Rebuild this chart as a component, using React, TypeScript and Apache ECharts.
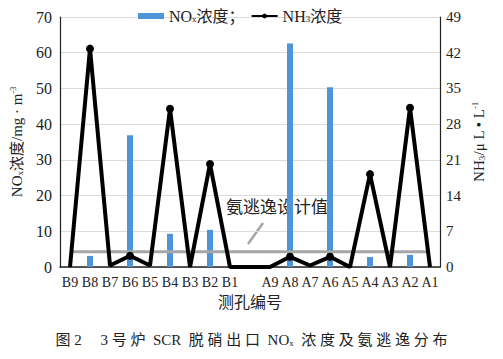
import React, { useEffect, useRef } from "react";
import * as echarts from "echarts";

const categories = ["B9", "B8", "B7", "B6", "B5", "B4", "B3", "B2", "B1", "", "A9", "A8", "A7", "A6", "A5", "A4", "A3", "A2", "A1"];
const noxValues = [0, 3.1, 0, 36.9, 0, 9.3, 0, 10.4, 0, 0, 0, 62.6, 0, 50.3, 0, 2.8, 0, 3.4, 0];
const nh3Values = [0, 42.8, 0.3, 2.2, 0.3, 31, 0, 20.2, 0, 0, 0, 2.0, 0.3, 2.0, 0, 18.2, 0, 31.2, 0];
const designValue = categories.map(() => 3);
const leftTicks = { min: 0, max: 70, interval: 10 };
const rightTicks = { min: 0, max: 49, interval: 7 };

const FONT = '"Liberation Serif", "DejaVu Serif", "Noto Sans CJK SC", serif';

export default function App() {
  const ref = useRef<HTMLDivElement>(null);
  useEffect(() => {
    if (!ref.current) return;
    const chart = echarts.init(ref.current, null, { renderer: "svg" });
    const sub = { fontSize: 9, fontFamily: FONT, color: "#222", verticalAlign: "bottom" as const, padding: [6, 0, 0, 0] };
    chart.setOption({
      animation: false,
      backgroundColor: "#fff",
      textStyle: { fontFamily: FONT },
      grid: { left: 60, right: 63, top: 17, bottom: 92 },
      legend: {
        top: 3,
        left: 133,
        itemGap: 6,
        itemWidth: 26,
        itemHeight: 6,
        data: [
          { name: "NOx", icon: "rect" },
          { name: "NH3" },
        ],
        formatter: (n: string) => (n === "NOx" ? "{a|NO}{s|x}{a|浓度；}" : "{a|NH}{s|3}{a|浓度}"),
        textStyle: {
          fontFamily: FONT,
          rich: {
            a: { fontSize: 16, fontFamily: FONT, color: "#222" },
            s: sub,
          },
        },
      },
      xAxis: {
        type: "category",
        data: categories,
        axisTick: { show: false },
        axisLine: { lineStyle: { color: "#222", width: 1.5 } },
        axisLabel: { interval: 0, fontSize: 14, color: "#222", fontFamily: FONT, margin: 8 },
        name: "测孔编号",
        nameLocation: "middle",
        nameGap: 27,
        nameTextStyle: { fontSize: 16, color: "#222", fontFamily: FONT },
      },
      yAxis: [
        {
          type: "value",
          ...leftTicks,
          axisLine: { show: true, lineStyle: { color: "#222", width: 1.2 } },
          axisTick: { show: false },
          splitLine: { lineStyle: { color: "#dcdcdc", width: 1 } },
          axisLabel: { fontSize: 16, color: "#222", fontFamily: FONT, margin: 8 },
          name: "{a|NO}{s|x}{a|浓度/mg · m}{p|-3}",
          nameLocation: "middle",
          nameGap: 36,
          nameRotate: 90,
          nameTextStyle: {
            rich: {
              a: { fontSize: 15, fontFamily: FONT, color: "#222" },
              s: sub,
              p: { fontSize: 8, fontFamily: FONT, color: "#222", verticalAlign: "top" as const, padding: [0, 0, 6, 0] },
            },
          },
        },
        {
          type: "value",
          ...rightTicks,
          position: "right",
          axisLine: { show: true, lineStyle: { color: "#222", width: 1.2 } },
          axisTick: { show: false },
          splitLine: { show: false },
          axisLabel: { fontSize: 15, color: "#222", fontFamily: FONT, margin: 6 },
          name: "{a|NH}{s|3}{a|/μ L • L}{p|-1}",
          nameLocation: "middle",
          nameGap: 31,
          nameRotate: 90,
          nameTextStyle: {
            rich: {
              a: { fontSize: 15, fontFamily: FONT, color: "#222" },
              s: sub,
              p: { fontSize: 8, fontFamily: FONT, color: "#222", verticalAlign: "top" as const, padding: [0, 0, 6, 0] },
            },
          },
        },
      ],
      series: [
        {
          name: "NOx",
          type: "bar",
          yAxisIndex: 0,
          data: noxValues,
          barWidth: 6,
          itemStyle: { color: "#4f94d8" },
        },
        {
          name: "design",
          type: "line",
          yAxisIndex: 1,
          data: designValue,
          symbol: "none",
          lineStyle: { color: "#a6a6a6", width: 3 },
          z: 3,
        },
        {
          name: "NH3",
          type: "line",
          yAxisIndex: 1,
          data: nh3Values,
          symbol: "circle",
          symbolSize: (v: number) => (v > 1 ? 8 : 0),
          itemStyle: { color: "#000" },
          lineStyle: { color: "#000", width: 4 },
          z: 4,
        },
      ],
      graphic: [
        {
          type: "text",
          left: 226,
          top: 199,
          style: { text: "氨逃逸设计值", fontSize: 17, fontFamily: FONT, fill: "#222" },
        },
        {
          type: "line",
          shape: { x1: 248, y1: 244, x2: 263, y2: 223 },
          style: { stroke: "#a6a6a6", lineWidth: 2.5 },
        },
        {
          type: "text",
          left: "center",
          top: 332,
          style: {
            text: "{a|图 2　 3 号 炉  SCR  脱 硝 出 口  NO}{s|x}{a|  浓 度 及 氨 逃 逸 分 布}",
            rich: {
              a: { fontSize: 15, fontFamily: FONT, fill: "#222" },
              s: { fontSize: 9, fontFamily: FONT, fill: "#222", verticalAlign: "bottom", padding: [6, 0, 0, 0] },
            },
          },
        },
      ],
    });
    return () => chart.dispose();
  }, []);
  return <div ref={ref} style={{ width: 503, height: 359, position: "absolute", left: 0, top: 0 }} />;
}
